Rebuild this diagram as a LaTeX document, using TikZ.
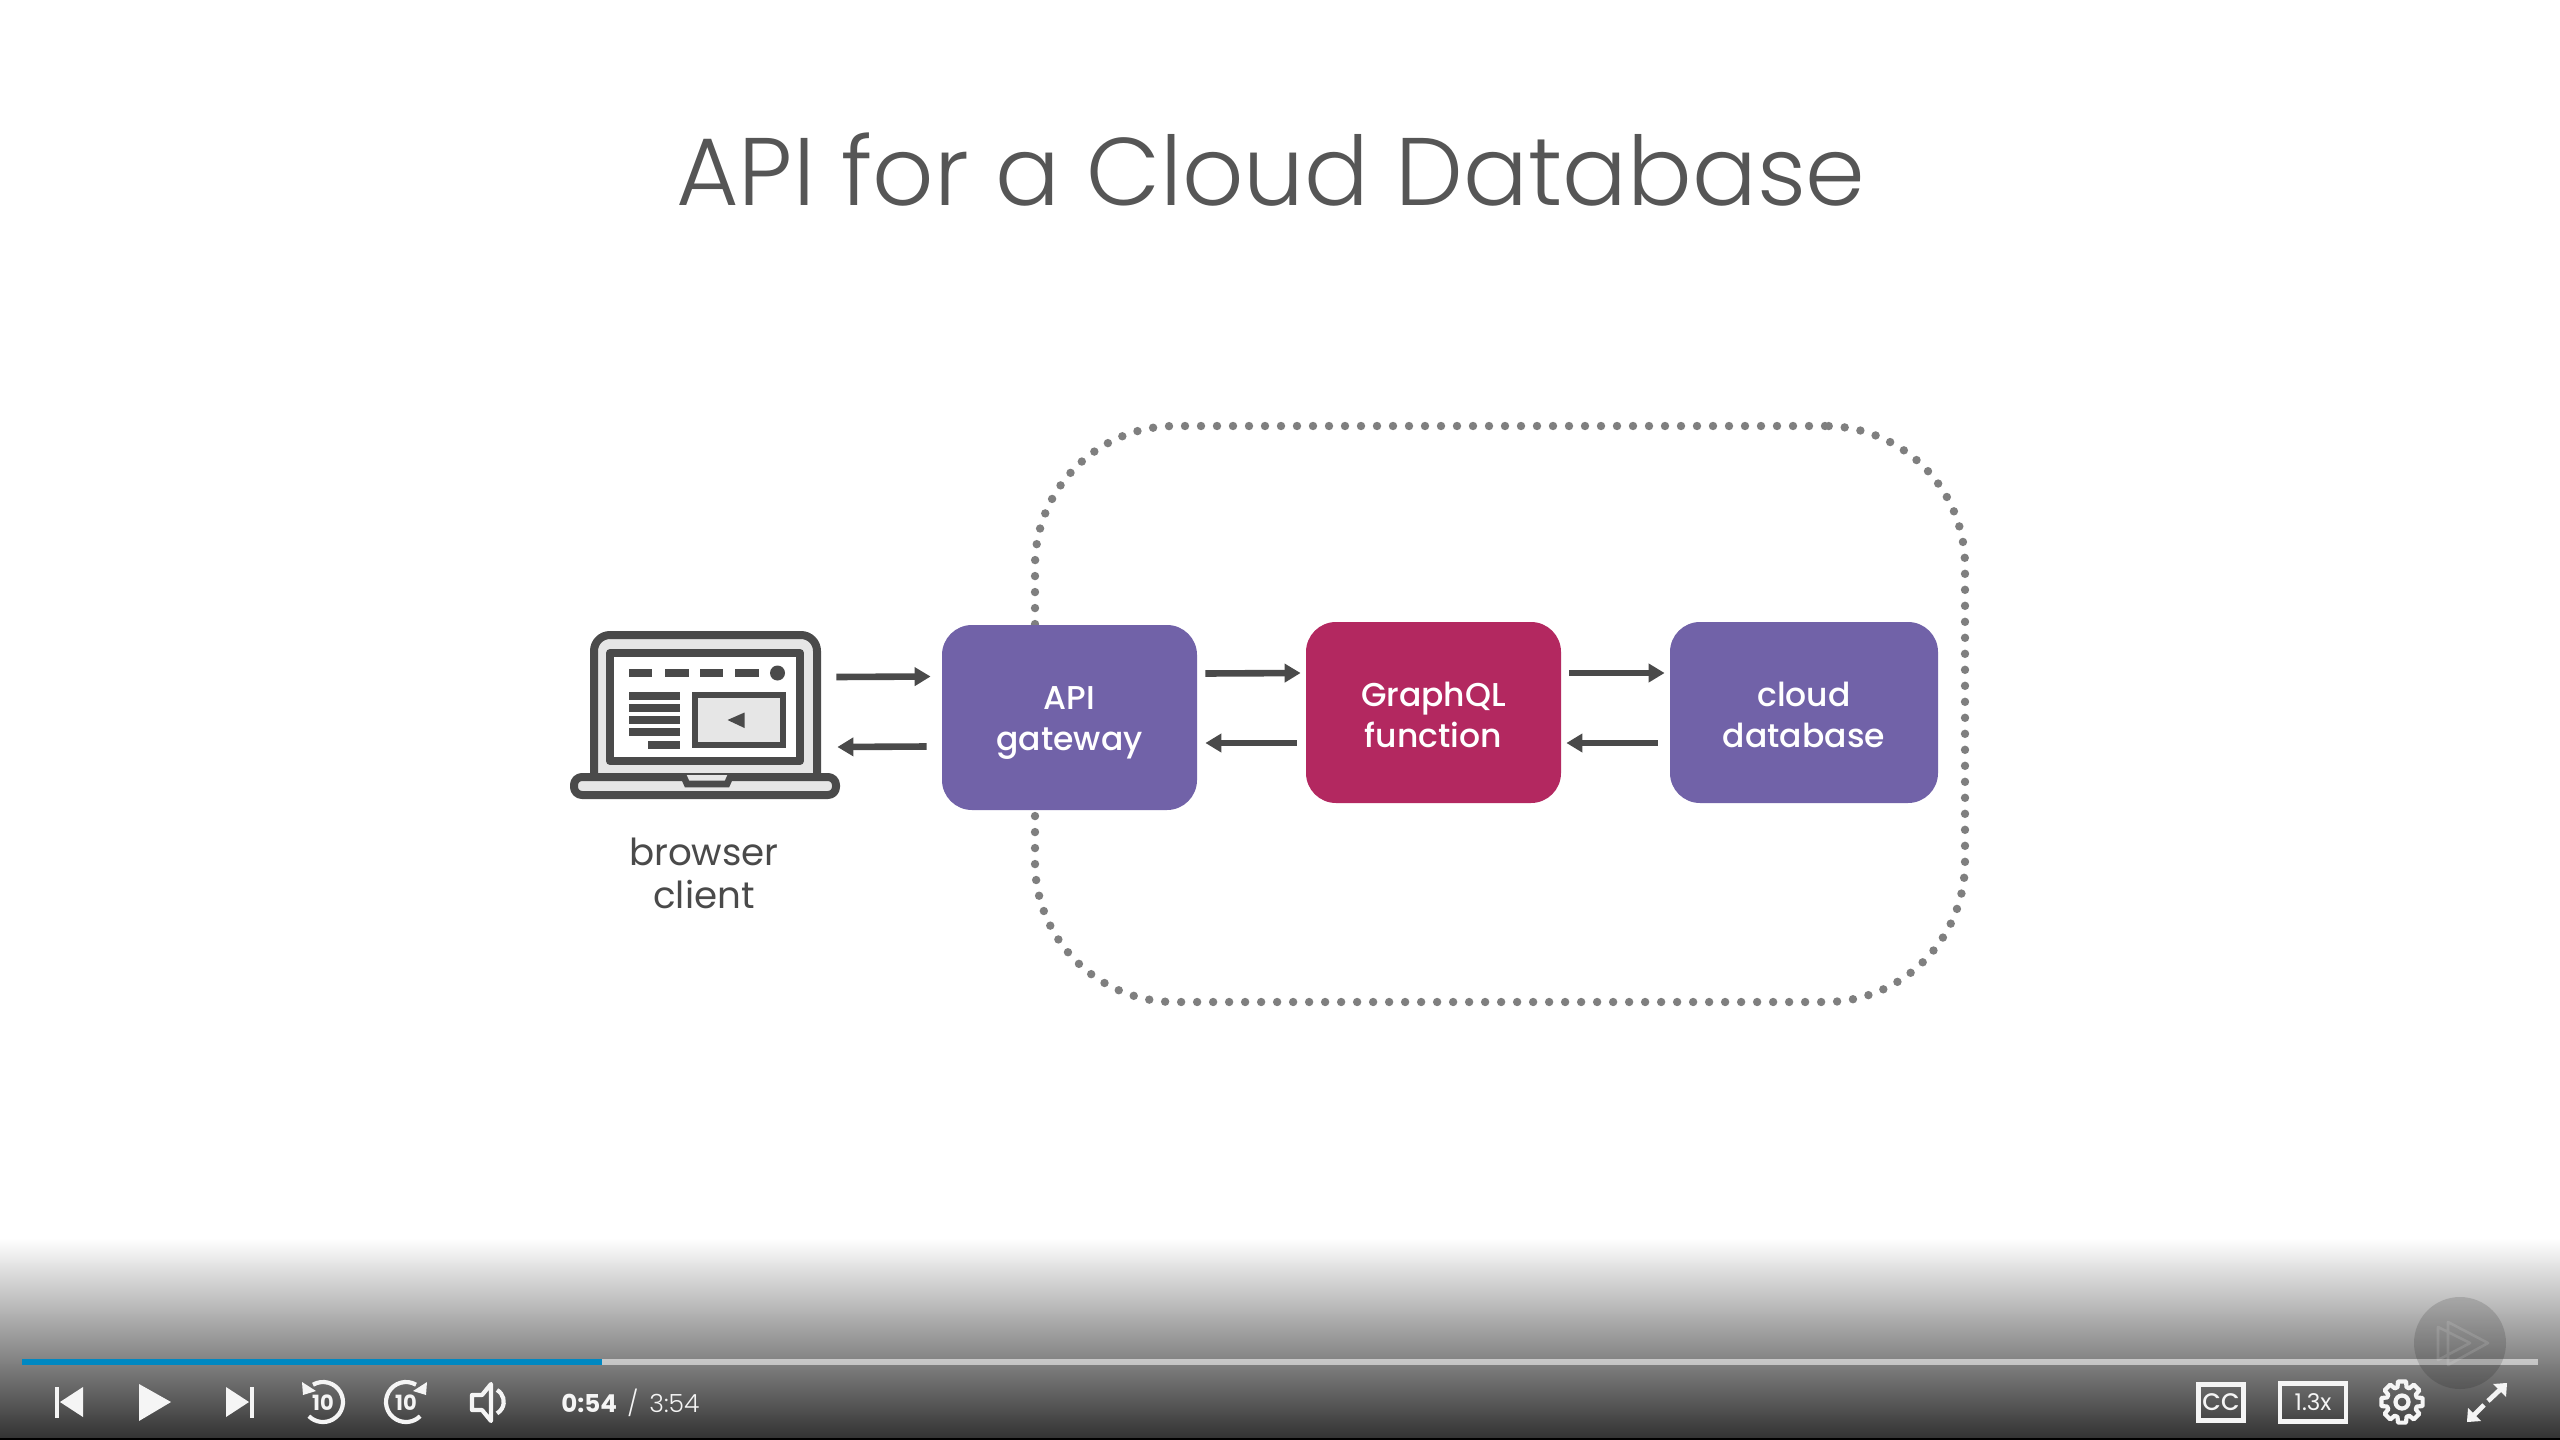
\documentclass[tikz,border=0pt]{standalone}
\usepackage{fontspec}
\setmainfont{Poppins}
\newfontfamily\ptlight{Poppins Light}
\newfontfamily\ptmed{Poppins Medium}
\usetikzlibrary{arrows.meta}
\definecolor{ink}{HTML}{4A4A4A}
\definecolor{titlec}{HTML}{565656}
\definecolor{lblue}{HTML}{7162A8}
\definecolor{lred}{HTML}{B32860}
\definecolor{dotc}{HTML}{7F7F7F}
\definecolor{iconfill}{HTML}{E6E6E6}
\definecolor{barblue}{HTML}{0088C2}
\definecolor{ctrl}{HTML}{F5F5F5}
\tikzset{
  svc/.style={rounded corners=15pt,inner sep=0pt,text=white,align=center,
    font=\ptmed\fontsize{16.5}{20.5}\selectfont},
  flow/.style={draw=ink,line width=3.3pt,-{Triangle[length=8pt,width=9pt]}},
  ico/.style={draw=ink,line width=4pt,line join=round},
  ctl/.style={draw=ctrl,line width=2.1pt},
  zone/.style={draw=dotc,line width=4.2pt,line cap=round,dash pattern=on 0pt off 8pt,rounded corners=70pt,inner sep=0pt},
}
\begin{document}
\begin{tikzpicture}[x=0.5pt,y=-0.5pt]
\useasboundingbox (0,0) rectangle (2560,1440);
\fill[white] (0,0) rectangle (2560,1440);
% title
\node[anchor=base,text=titlec,inner sep=0pt] (title) at (1271,205) {\ptlight\fontsize{48}{58}\selectfont API for a Cloud Database};
% dotted zone
\node[zone,minimum width=465pt,minimum height=288pt] (zone) at (1500,714) {};
% service boxes
\node[svc,fill=lblue,minimum width=127.5pt,minimum height=92.5pt] (api) at (1069.5,717.5) {\rule{0pt}{17pt}API\\gateway};
\node[svc,fill=lred,minimum width=127.5pt,minimum height=90.5pt] (gql) at (1433.5,712.5) {\rule{0pt}{14.5pt}GraphQL\\function};
\node[svc,fill=lblue,minimum width=134pt,minimum height=90.5pt] (db) at (1804,712.5) {\rule{0pt}{14.5pt}cloud\\database};
% laptop
\node[inner sep=0pt,minimum width=135pt,minimum height=83.5pt] (laptop) at (705,715) {};
\draw[ico,fill=iconfill,rounded corners=8pt] (594,774) -- (594,635) -- (817,635) -- (817,774);
\draw[ico,fill=white] (610,653) rectangle (800,761);
\foreach \a/\b in {629/652,665/689,700/723,735/759} \draw[ink,line width=3.7pt] (\a,673) -- (\b,673);
\fill[ink] (777.5,673) circle[radius=7.5];
\foreach \y in {696,708,720,732} \draw[ink,line width=3.7pt] (629,\y) -- (680,\y);
\draw[ink,line width=3.7pt] (648,745) -- (680,745);
\draw[ink,line width=3.3pt,fill=iconfill] (695,695) rectangle (783,745);
\fill[ink] (727.5,720) -- (744.5,712.5) -- (744.5,728) -- cycle;
\draw[ico,fill=iconfill,rounded corners=4pt] (574,777) rectangle (836,795);
\draw[ink,line width=3.3pt,fill=iconfill] (683,775) -- (687,784) -- (727,784) -- (731,775);
\node[text=ink,align=center,inner sep=0pt,font=\fontsize{18.6}{21.5}\selectfont] (lapl) at (704,873) {browser\\client};
% connectors
\draw[flow] ([shift={(-4,-38)}]laptop.east) -- ([shift={(-11,-41)}]api.west);
\draw[flow] ([shift={(-15,29)}]api.west) -- ([shift={(-3,32)}]laptop.east);
\draw[flow] ([shift={(8,-44)}]api.east) -- ([shift={(-5,-39.5)}]gql.west);
\draw[flow] ([shift={(-9,30.5)}]gql.west) -- ([shift={(8,25.5)}]api.east);
\draw[flow] ([shift={(8,-39.5)}]gql.east) -- ([shift={(-5,-39.5)}]db.west);
\draw[flow] ([shift={(-12,30.5)}]db.west) -- ([shift={(5,30.5)}]gql.east);
% player bar
\shade[top color=white,bottom color=black!80] (0,1238) rectangle (2560,1438);
\fill[black] (0,1438) rectangle (2560,1440);
\fill[white,opacity=.55] (602,1359) rectangle (2538,1365);
\fill[barblue] (22,1359) rectangle (602,1365);
\fill[black,opacity=.14] (2460,1343) circle[radius=46];
\draw[white,opacity=.12,line width=1.3pt,line join=round] (2448,1322) -- (2488,1343) -- (2448,1365) -- cycle (2438,1327) -- (2470,1343) -- (2438,1360) -- cycle;
% transport icons
\fill[ctrl] (55,1387) rectangle (59,1418);
\fill[ctrl] (60,1402) -- (83,1387) -- (83,1417) -- cycle;
\fill[ctrl] (139,1384) -- (171,1402) -- (139,1421) -- cycle;
\fill[ctrl] (249,1402) -- (226,1387) -- (226,1417) -- cycle;
\fill[ctrl] (250,1387) rectangle (254,1418);
% rewind 10
\draw[ctl] (323,1402) ++(-120:20) arc[start angle=-120,end angle=135,radius=20];
\fill[ctrl] (302,1382) -- (316,1391) -- (303,1395) -- cycle;
\node[text=ctrl,inner sep=0pt,font=\bfseries\fontsize{10.5}{12}\selectfont] (back) at (323,1403) {10};
% forward 10
\draw[ctl] (406,1402) ++(-60:20) arc[start angle=-60,end angle=-315,radius=20];
\fill[ctrl] (427,1382) -- (413,1391) -- (426,1395) -- cycle;
\node[text=ctrl,inner sep=0pt,font=\bfseries\fontsize{10.5}{12}\selectfont] (fwd) at (406,1403) {10};
% volume
\draw[ctl,line join=round] (472,1395) -- (482,1395) -- (491,1384) -- (491,1421) -- (482,1410) -- (472,1410) -- cycle;
\draw[ctl] (497,1390) arc[start angle=-60,end angle=60,radius=13.5];
% time
\node[anchor=base west,text=ctrl,inner sep=0pt,font=\bfseries\fontsize{12.3}{14}\selectfont] (tnow) at (561,1412) {0:54};
\node[anchor=base west,text=ctrl,inner sep=0pt,font=\ptlight\fontsize{12.5}{14}\selectfont] (tall) at (627,1412) {/ \,3:54};
% right controls
\node[ctl,text=ctrl,inner sep=0pt,minimum width=22.5pt,minimum height=18pt,font=\ptmed\fontsize{12}{13}\selectfont] (cc) at (2221,1402.5) {CC};
\node[ctl,text=ctrl,inner sep=0pt,minimum width=33pt,minimum height=19pt,font=\fontsize{11.5}{12}\selectfont] (speed) at (2313,1402.5) {1.3x};
\draw[ctl,shift={(2402,1402)},line join=round] (11:21)
  \foreach \a in {0,45,...,315} { -- (\a+11:21) -- (\a+17:15.5) -- (\a+28:15.5) -- (\a+34:21) } -- cycle;
\draw[ctl] (2402,1402) circle[radius=6.5];
\draw[ctl,line width=2.4pt] (2488,1401) -- (2505,1385);
\fill[ctrl] (2507,1383) -- (2493,1384) -- (2506,1397) -- cycle;
\draw[ctl,line width=2.4pt] (2484,1405) -- (2469,1420);
\fill[ctrl] (2467,1422) -- (2481,1421) -- (2468,1408) -- cycle;
\end{tikzpicture}
\end{document}
